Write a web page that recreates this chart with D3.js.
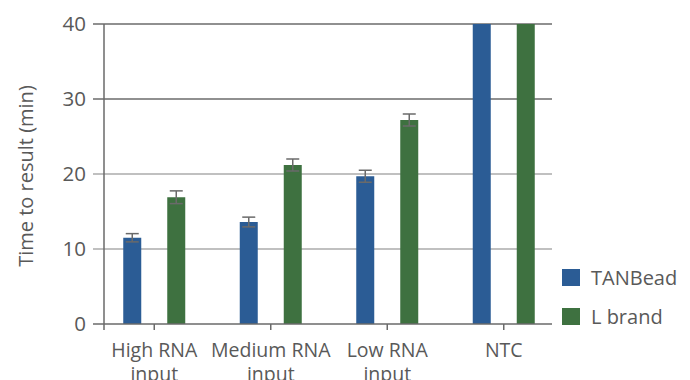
<!DOCTYPE html>
<html>
<head>
<meta charset="utf-8">
<script src="https://cdn.jsdelivr.net/npm/d3@7"></script>
<style>
  body { margin: 0; background: #fff; }
  svg text { font-family: "Open Sans", sans-serif; fill: #595959; }
</style>
</head>
<body>
<svg id="chart" width="690" height="380"></svg>
<script>
// Time-to-result per sample type
const categories = [["High RNA", "input"], ["Medium RNA", "input"], ["Low RNA", "input"], ["NTC"]];
const seriesNames = ["TANBead", "L brand"];
const tanbead = [11.5, 13.6, 19.7, 40];
const tanbeadErr = [0.55, 0.65, 0.8, 0];
const lbrand = [16.9, 21.2, 27.2, 40];
const lbrandErr = [0.85, 0.8, 0.8, 0];
const yTicks = [0, 10, 20, 30, 40];
const colors = ["#2B5C95", "#3E7140"];

const svg = d3.select("#chart");

const y = d3.scaleLinear().domain([0, 40]).range([324, 24]);
const x0 = d3.scaleBand().domain(d3.range(categories.length)).range([96, 562]).padding(0);
const x1 = d3.scaleBand().domain(seriesNames).range([-31, 31]).paddingInner(26 / 44).paddingOuter(0);

const axisLeft = 104, axisRight = 552, tickLeft = 93;

// gridlines
svg.append("g").selectAll("line").data(yTicks.filter(d => d > 0)).join("line")
  .attr("x1", tickLeft).attr("x2", axisRight)
  .attr("y1", d => y(d)).attr("y2", d => y(d))
  .attr("stroke", d => d >= 30 ? "#6b6b6b" : "#ababab")
  .attr("stroke-width", 1.3);

// y tick labels
svg.append("g").selectAll("text").data(yTicks).join("text")
  .attr("x", 86).attr("y", d => y(d)).attr("dy", "0.35em")
  .attr("text-anchor", "end").attr("font-size", 20.5)
  .text(d => d);

// bars
const rows = categories.map((c, i) => [
  { s: seriesNames[0], v: tanbead[i], e: tanbeadErr[i], c: colors[0] },
  { s: seriesNames[1], v: lbrand[i], e: lbrandErr[i], c: colors[1] }
]);
const groups = svg.append("g").selectAll("g").data(rows).join("g")
  .attr("transform", (d, i) => `translate(${x0(i) + x0.bandwidth() / 2},0)`);
groups.selectAll("rect").data(d => d).join("rect")
  .attr("x", d => x1(d.s)).attr("width", x1.bandwidth())
  .attr("y", d => y(d.v)).attr("height", d => y(0) - y(d.v))
  .attr("fill", d => d.c);

// error bars
const eb = groups.selectAll("g.err").data(d => d.filter(r => r.e > 0)).join("g").attr("class", "err")
  .attr("stroke", "#6a6a6a").attr("stroke-width", 1.5);
const cx = d => x1(d.s) + x1.bandwidth() / 2;
eb.append("line").attr("x1", cx).attr("x2", cx)
  .attr("y1", d => y(d.v + d.e)).attr("y2", d => y(d.v - d.e));
eb.append("line").attr("x1", d => cx(d) - 6.5).attr("x2", d => cx(d) + 6.5)
  .attr("y1", d => y(d.v + d.e)).attr("y2", d => y(d.v + d.e));
eb.append("line").attr("x1", d => cx(d) - 6.5).attr("x2", d => cx(d) + 6.5)
  .attr("y1", d => y(d.v - d.e)).attr("y2", d => y(d.v - d.e));

// axes
const ax = svg.append("g").attr("stroke", "#6a6a6a").attr("stroke-width", 1.5);
ax.append("line").attr("x1", axisLeft).attr("x2", axisLeft).attr("y1", y(40)).attr("y2", y(0) + 6);
ax.append("line").attr("x1", tickLeft).attr("x2", axisRight).attr("y1", y(0)).attr("y2", y(0));
ax.selectAll("line.xt").data(d3.range(categories.length)).join("line").attr("class", "xt")
  .attr("x1", i => x0(i) + x0.bandwidth() / 2).attr("x2", i => x0(i) + x0.bandwidth() / 2)
  .attr("y1", y(0)).attr("y2", y(0) + 6);

// category labels
svg.append("g").selectAll("text").data(categories).join("text")
  .attr("x", (d, i) => x0(i) + x0.bandwidth() / 2)
  .attr("y", 357).attr("text-anchor", "middle").attr("font-size", 19.5)
  .selectAll("tspan").data(d => d).join("tspan")
  .attr("x", function () { return this.parentNode.getAttribute("x"); })
  .attr("dy", (d, j) => j === 0 ? 0 : 24)
  .text(d => d);

// y-axis title
svg.append("text")
  .attr("transform", "translate(33,176) rotate(-90)")
  .attr("text-anchor", "middle").attr("font-size", 20)
  .text("Time to result (min)");

// legend
const lg = svg.append("g").selectAll("g").data(seriesNames).join("g")
  .attr("transform", (d, i) => `translate(562,${269 + i * 39})`);
lg.append("rect").attr("width", 18).attr("height", 17).attr("fill", (d, i) => colors[i]);
lg.append("text").attr("x", 29).attr("y", 8.5).attr("dy", "0.35em")
  .attr("font-size", 20).text(d => d);
</script>
</body>
</html>
